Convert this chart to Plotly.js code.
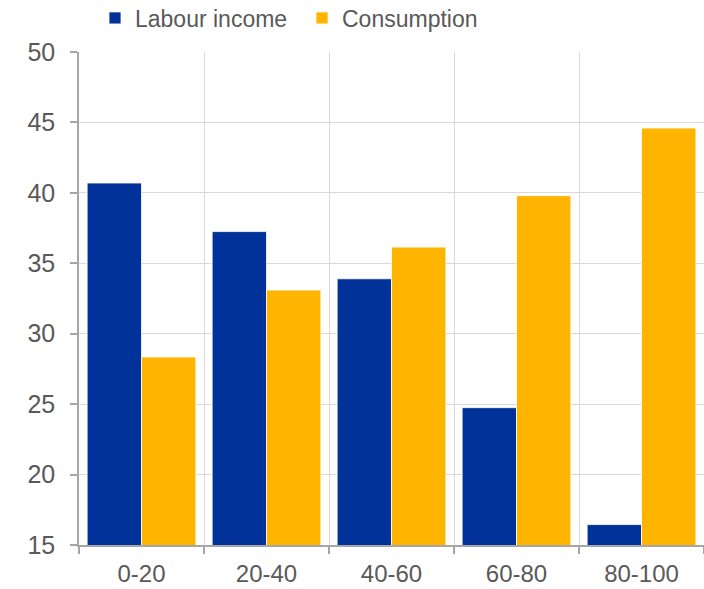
<!DOCTYPE html>
<html><head><meta charset="utf-8">
<script src="https://cdn.plot.ly/plotly-3.0.1.min.js"></script>
<style>html,body{margin:0;padding:0;background:#fff}#chart{width:704px;height:589px}</style>
</head><body><div id="chart"></div>
<script>
const categories = ["0-20", "20-40", "40-60", "60-80", "80-100"];
const labourIncome = [40.7, 37.25, 33.9, 24.75, 16.45];
const consumption = [28.35, 33.1, 36.15, 39.8, 44.6];
const seriesNames = ["Labour income", "Consumption"];

const traces = [
  {type: "bar", name: seriesNames[0], x: categories, y: labourIncome,
   marker: {color: "#003299", line: {color: "#ffffff", width: 0.8}}},
  {type: "bar", name: seriesNames[1], x: categories, y: consumption,
   marker: {color: "#FFB400", line: {color: "#ffffff", width: 0.8}}}
];
const layout = {
  width: 704, height: 589,
  margin: {l: 79, r: 0, t: 52, b: 44},
  paper_bgcolor: "#ffffff", plot_bgcolor: "#ffffff",
  font: {family: "Liberation Sans, Arial, sans-serif", color: "#595959", size: 24},
  barmode: "group", bargap: 0.13, bargroupgap: 0,
  showlegend: true,
  legend: {orientation: "h", xref: "container", x: 95/704, xanchor: "left",
           yref: "container", y: 1 - 18/589, yanchor: "middle",
           font: {size: 23, color: "#595959"}, itemwidth: 30, traceorder: "normal",
           entrywidth: 162, entrywidthmode: "pixels"},
  xaxis: {type: "category", tickson: "boundaries", showgrid: true, gridcolor: "#d9d9d9", gridwidth: 1,
          showline: true, linecolor: "#a6a6a6", linewidth: 1.5, ticks: "outside", ticklen: 7,
          tickcolor: "#a6a6a6", tickwidth: 1.5, ticklabelstandoff: 6, tickfont: {size: 24}},
  yaxis: {range: [15, 50], dtick: 5, tick0: 15, showgrid: true, gridcolor: "#d9d9d9", gridwidth: 1,
          showline: true, linecolor: "#a6a6a6", linewidth: 1.5, ticks: "outside", ticklen: 7,
          tickcolor: "#a6a6a6", tickwidth: 1.5, ticklabelstandoff: 10, zeroline: false, tickfont: {size: 25}}
};
Plotly.newPlot("chart", traces, layout, {displayModeBar: false});
</script></body></html>
